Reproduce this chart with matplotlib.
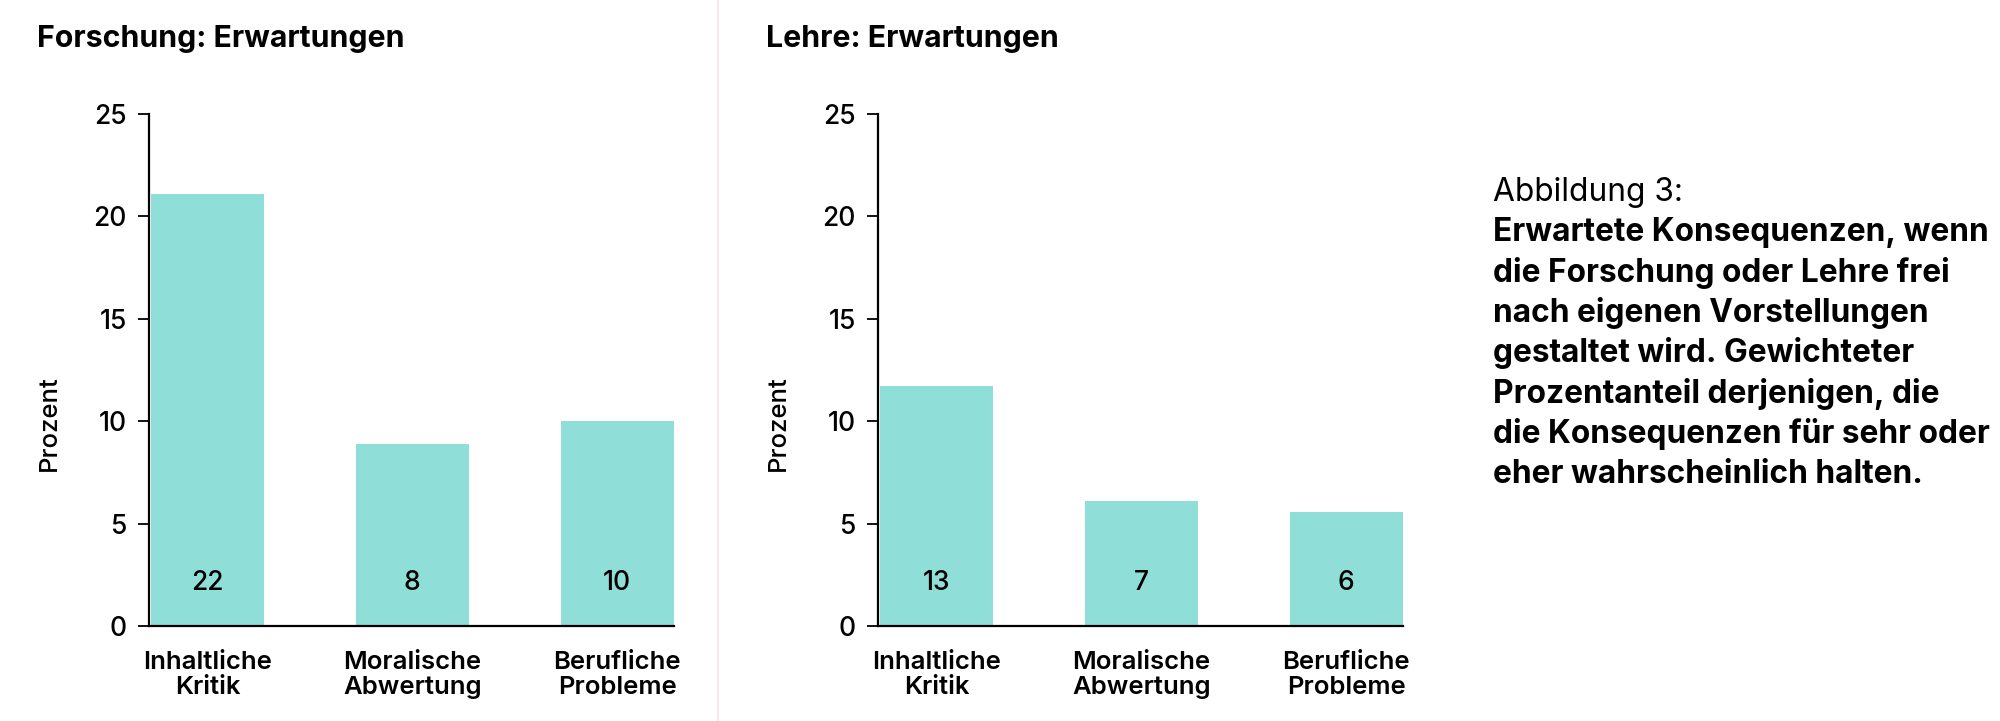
import numpy as np
import matplotlib
matplotlib.use('Agg')
import matplotlib.pyplot as plt
import matplotlib.transforms as mtransforms

plt.rcParams['font.family'] = ['Inter', 'DejaVu Sans']

# daten
kategorien = ['Inhaltliche\nKritik', 'Moralische\nAbwertung', 'Berufliche\nProbleme']
forschung_werte = [21.1, 8.9, 10.0]
forschung_labels = ['22', '8', '10']
lehre_werte = [11.7, 6.1, 5.55]
lehre_labels = ['13', '7', '6']
y_ticks = [0, 5, 10, 15, 20, 25]

titel_links = 'Forschung: Erwartungen'
titel_rechts = 'Lehre: Erwartungen'
caption_kopf = 'Abbildung 3:'
caption_zeilen = ['Erwartete Konsequenzen, wenn',
                  'die Forschung oder Lehre frei',
                  'nach eigenen Vorstellungen',
                  'gestaltet wird. Gewichteter',
                  'Prozentanteil derjenigen, die',
                  'die Konsequenzen für sehr oder',
                  'eher wahrscheinlich halten.']

farbe = '#90ded8'
W, H = 2000, 721

fig = plt.figure(figsize=(W / 100, H / 100), dpi=100)


def panel(x0, werte, labels):
    ax = fig.add_axes([x0 / W, (H - 626) / H, 525 / W, 512 / H])
    x = np.arange(len(kategorien))
    ax.bar(x, werte, width=0.552, color=farbe, zorder=2)
    ax.set_xlim(-0.286, 2.278)
    ax.set_ylim(0, 25)
    ax.set_yticks(y_ticks)
    ax.set_xticks(x)
    ax.set_xticklabels(kategorien, fontsize=18.5, fontweight=600, linespacing=1.1)
    ax.tick_params(axis='x', length=0, pad=18)
    ax.tick_params(axis='y', length=8, width=1.3, pad=8, labelsize=19)
    for t in ax.get_yticklabels():
        t.set_fontweight(500)
    for s in ['top', 'right']:
        ax.spines[s].set_visible(False)
    for s in ['left', 'bottom']:
        ax.spines[s].set_linewidth(1.6)
    ax.set_ylabel('Prozent', fontsize=18.5, fontweight=500)
    ax.yaxis.set_label_coords(-0.168, 0.396)
    trans = mtransforms.blended_transform_factory(ax.transData, ax.transAxes)
    for xi, lab in zip(x, labels):
        ax.text(xi, 0.084, lab, transform=trans, ha='center', va='center',
                fontsize=19, fontweight=500)
    return ax


panel(149, forschung_werte, forschung_labels)
panel(878, lehre_werte, lehre_labels)

fig.text(37 / W, 1 - 39 / H, titel_links, fontsize=21.8, fontweight='bold', va='center', ha='left')
fig.text(766 / W, 1 - 39 / H, titel_rechts, fontsize=21.8, fontweight='bold', va='center', ha='left')

# trennlinie
fig.add_artist(plt.Line2D([718 / W, 718 / W], [0, 1], color='#f6e1e7', lw=1.2))

# bildunterschrift
fig.text(1493 / W, 1 - 192 / H, caption_kopf, fontsize=22.8, va='center', ha='left')
for i, zeile in enumerate(caption_zeilen):
    fig.text(1493 / W, 1 - (192 + 40.3 * (i + 1)) / H, zeile, fontsize=22.8,
             fontweight='bold', va='center', ha='left')

fig.savefig('out.png', dpi=100, facecolor='white')
